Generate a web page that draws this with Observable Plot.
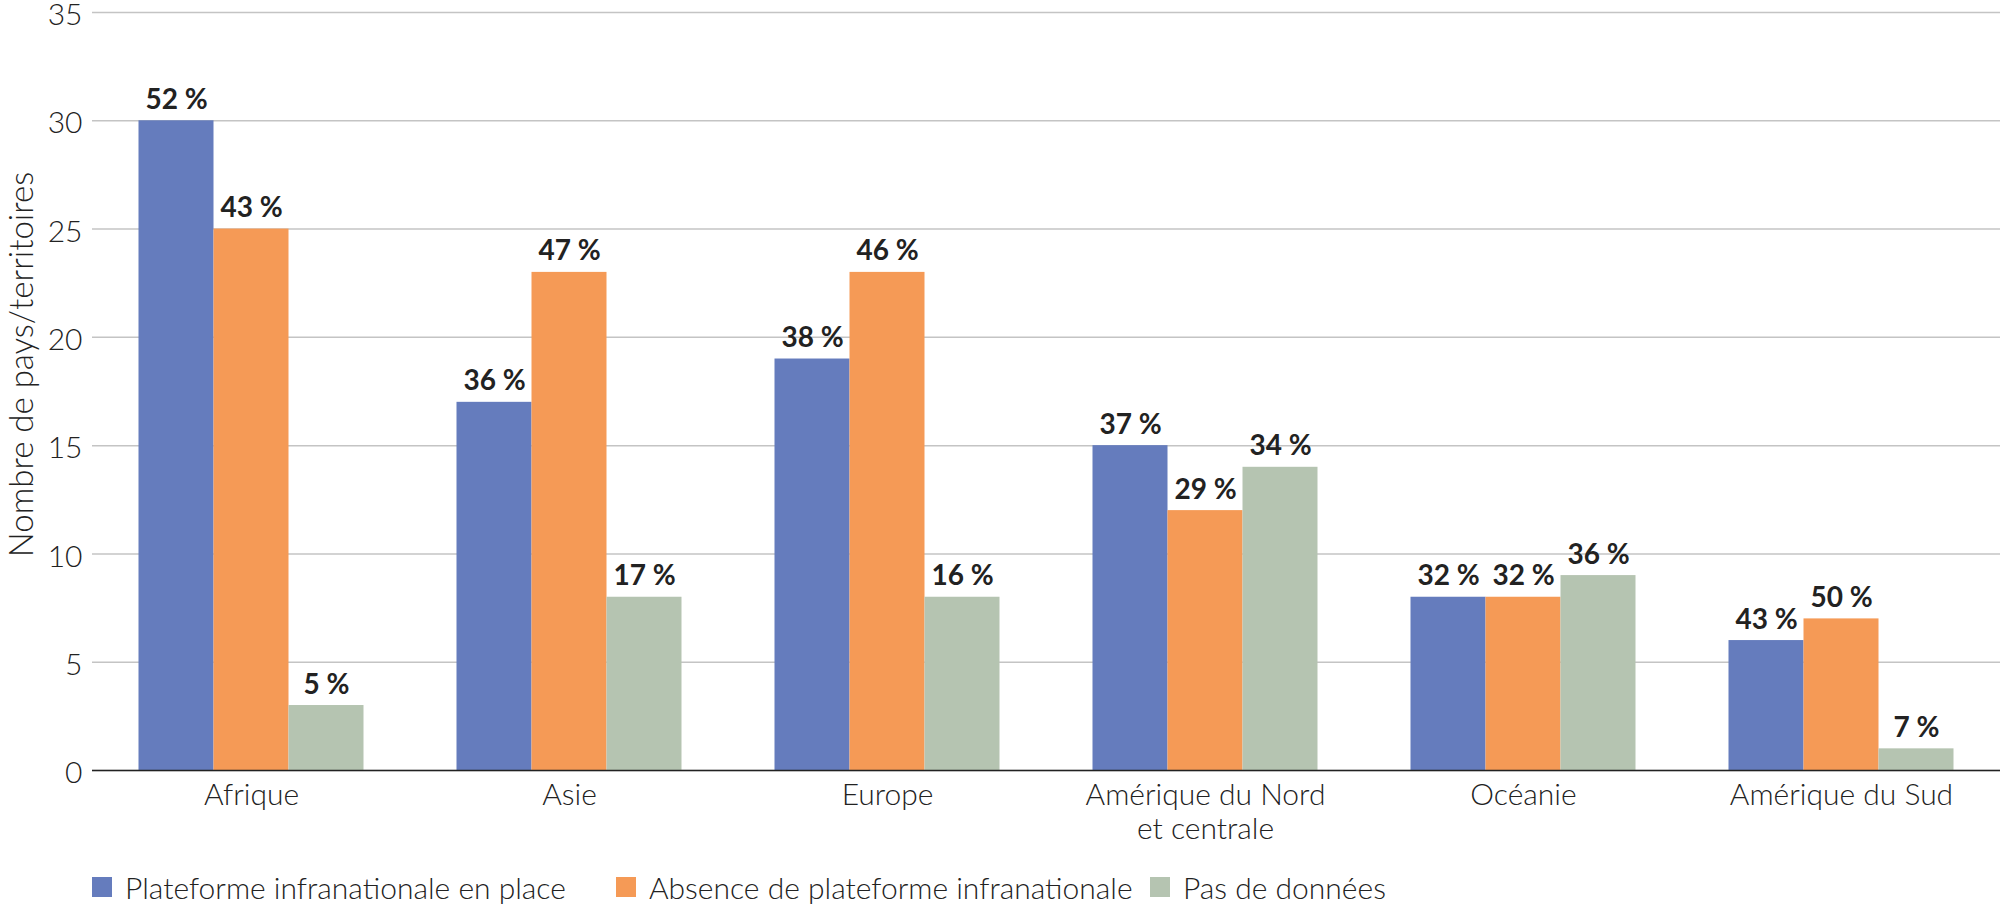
<!DOCTYPE html>
<html>
<head>
<meta charset="utf-8">
<script src="https://cdn.jsdelivr.net/npm/d3@7"></script>
<script src="https://cdn.jsdelivr.net/npm/@observablehq/plot@0.6"></script>
<style>
  html, body { margin: 0; padding: 0; background: #fff; }
  body { width: 2000px; height: 906px; overflow: hidden; font-family: "Source Sans Pro", Lato, "Open Sans", sans-serif; }
  #chart svg { display: block; }
  .legend { position: relative; height: 40px; margin-top: 17px; font-size: 30px; font-weight: 300; color: #222; }
  .legend .item { position: absolute; top: 0; display: flex; align-items: center; white-space: nowrap; }
  .legend .sw { width: 20px; height: 20px; margin-right: 13px; }
</style>
</head>
<body>
<div id="chart"></div>
<div class="legend" id="legend"></div>
<script>
const regions = ["Afrique", "Asie", "Europe", "Amérique du Nord et centrale", "Océanie", "Amérique du Sud"];
const series = ["Plateforme infranationale en place", "Absence de plateforme infranationale", "Pas de données"];
const colors = ["#657cbd", "#f59a56", "#b5c4b1"];
const countPlateforme = [30, 17, 19, 15, 8, 6];
const countAbsence = [25, 23, 23, 12, 8, 7];
const countSansDonnees = [3, 8, 8, 14, 9, 1];
const pctPlateforme = [52, 36, 38, 37, 32, 43];
const pctAbsence = [43, 47, 46, 29, 32, 50];
const pctSansDonnees = [5, 17, 16, 34, 36, 7];
const yTicks = [0, 5, 10, 15, 20, 25, 30, 35];
const yTitle = "Nombre de pays/territoires";
const legendLefts = [92, 616, 1150];

const counts = [countPlateforme, countAbsence, countSansDonnees];
const pcts = [pctPlateforme, pctAbsence, pctSansDonnees];
const data = [];
regions.forEach((r, i) => series.forEach((s, j) => data.push({region: r, series: s, value: counts[j][i], pct: pcts[j][i]})));

const chart = Plot.plot({
  width: 2000,
  height: 852,
  marginTop: 12,
  marginLeft: 92,
  marginRight: 0,
  marginBottom: 82,
  style: {fontFamily: "'Source Sans Pro', Lato, 'Open Sans', sans-serif", fontSize: "28px", fontWeight: 300, color: "#222"},
  fx: {domain: regions, padding: 0, round: false},
  x: {domain: series, paddingInner: 0, paddingOuter: 0.62, round: false, axis: null},
  y: {domain: [0, 35], ticks: yTicks},
  color: {domain: series, range: colors},
  marks: [
    Plot.gridY(yTicks, {stroke: "#c4c4c4", strokeOpacity: 1, strokeWidth: 1.5}),
    Plot.barY(data, {fx: "region", x: "series", y: "value", fill: "series"}),
    Plot.ruleY([0], {stroke: "#222", strokeWidth: 1.5}),
    Plot.text(data, {fx: "region", x: "series", y: "value", text: d => d.pct + "\u00A0%", dy: -12, lineAnchor: "bottom", fontWeight: "bold", fontSize: 28, fill: "#222"}),
    Plot.axisY(yTicks, {tickSize: 0, tickPadding: 10, dy: 3, fontSize: 30, label: null}),
    Plot.text([yTitle], {facetAnchor: "left", frameAnchor: "left", textAnchor: "middle", rotate: -90, dx: -70, dy: -27, fontSize: 33, fill: "#222", fontWeight: 300}),
    Plot.axisFx({anchor: "bottom", tickSize: 0, tickPadding: 10, fontSize: 30, label: null, tickFormat: d => d.replace("du Nord et", "du Nord\net"), lineHeight: 1.15})
  ]
});
document.getElementById("chart").appendChild(chart);

const legend = document.getElementById("legend");
series.forEach((s, i) => {
  const item = document.createElement("div");
  item.className = "item";
  item.style.left = legendLefts[i] + "px";
  const sw = document.createElement("span");
  sw.className = "sw";
  sw.style.background = colors[i];
  const t = document.createElement("span");
  t.textContent = s;
  item.appendChild(sw); item.appendChild(t);
  legend.appendChild(item);
});
</script>
</body>
</html>
